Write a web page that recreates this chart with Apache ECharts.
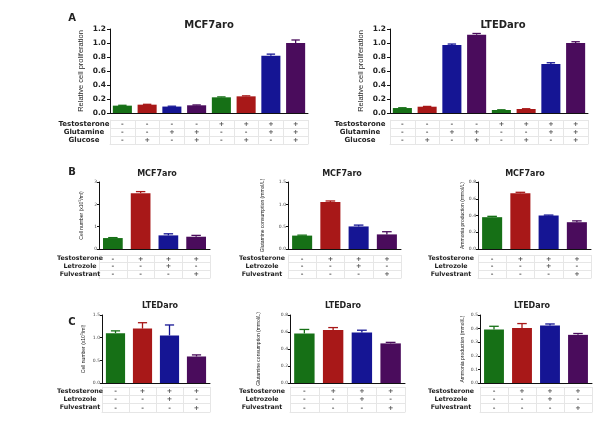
<!DOCTYPE html>
<html><head><meta charset="utf-8">
<script src="https://cdn.jsdelivr.net/npm/echarts@6/dist/echarts.min.js"></script>
<style>html,body{margin:0;padding:0;background:#fff}#c{width:600px;height:428px}</style>
</head><body><div id="c"></div>
<script>
// ---------------- data ----------------
const condA = ['c1','c2','c3','c4','c5','c6','c7','c8'];
const condB = ['c1','c2','c3','c4'];

const mcf7ProlifMean = [0.105, 0.119, 0.092, 0.110, 0.224, 0.238, 0.819, 1.000];
const mcf7ProlifErr  = [0.005, 0.005, 0.005, 0.005, 0.006, 0.007, 0.022, 0.043];
const ltedProlifMean = [0.071, 0.090, 0.971, 1.119, 0.043, 0.057, 0.700, 1.000];
const ltedProlifErr  = [0.004, 0.004, 0.014, 0.017, 0.003, 0.004, 0.018, 0.018];

const mcf7CellMean = [0.49, 2.50, 0.61, 0.55];
const mcf7CellErr  = [0.02, 0.07, 0.07, 0.06];
const mcf7GlnMean  = [0.30, 1.05, 0.505, 0.327];
const mcf7GlnErr   = [0.01, 0.025, 0.03, 0.06];
const mcf7NH3Mean  = [0.38, 0.665, 0.40, 0.32];
const mcf7NH3Err   = [0.01, 0.012, 0.005, 0.016];

const ltedCellMean = [1.10, 1.20, 1.05, 0.585];
const ltedCellErr  = [0.05, 0.13, 0.23, 0.035];
const ltedGlnMean  = [0.583, 0.625, 0.594, 0.466];
const ltedGlnErr   = [0.047, 0.027, 0.027, 0.012];
const ltedNH3Mean  = [0.393, 0.405, 0.422, 0.354];
const ltedNH3Err   = [0.024, 0.032, 0.012, 0.010];

const rowsA  = ['Testosterone', 'Glutamine', 'Glucose'];
const signsA = [['-','-','-','-','+','+','+','+'],
                ['-','-','+','+','-','-','+','+'],
                ['-','+','-','+','-','+','-','+']];
const rowsB  = ['Testosterone', 'Letrozole', 'Fulvestrant'];
const signsB = [['-','+','+','+'],
                ['-','-','+','-'],
                ['-','-','-','+']];

// y-axis ranges: [max, interval, decimals]
const yProlif = [1.2, 0.2, 1];
const yCell   = [3, 1, 0];
const yGln    = [1.5, 0.5, 1];
const yNH3    = [0.8, 0.2, 1];
const yLCell  = [1.5, 0.5, 1];
const yLGln   = [0.8, 0.2, 1];
const yLNH3   = [0.5, 0.1, 1];

const barColors = ['#167016', '#a81818', '#151594', '#4a0c5c'];

// ---------------- layout ----------------
const FF = 'DejaVu Sans';
const panels = [
  {title:'MCF7aro', tx:209, ty:25, tfs:10, cats:condA, mean:mcf7ProlifMean, err:mcf7ProlifErr, rows:rowsA, signs:signsA,
   yName:'Relative cell proliferation', y:yProlif, big:true, g:{left:110, top:29, width:198, height:84}, tb:{top:120, height:24}, rc:84, ng:25, bw:'77%'},
  {title:'LTEDaro', tx:503, ty:25, tfs:10, cats:condA, mean:ltedProlifMean, err:ltedProlifErr, rows:rowsA, signs:signsA,
   yName:'Relative cell proliferation', y:yProlif, big:true, g:{left:390, top:29, width:198, height:84}, tb:{top:120, height:24}, rc:360, ng:25, bw:'77%'},
  {title:'MCF7aro', tx:157, ty:174, tfs:8, cats:condB, mean:mcf7CellMean, err:mcf7CellErr, rows:rowsB, signs:signsB,
   yName:'Cell number (x10{s|5}/ml)', y:yCell, g:{left:99, top:182, width:111, height:67}, tb:{top:255, height:23}, rc:80, ng:14, bw:'71%'},
  {title:'MCF7aro', tx:342, ty:174, tfs:8, cats:condB, mean:mcf7GlnMean, err:mcf7GlnErr, rows:rowsB, signs:signsB,
   yName:'Glutamine consumption (mmol/L)', y:yGln, g:{left:288, top:182, width:113, height:67}, tb:{top:255, height:23}, rc:262, ng:23, bw:'71%'},
  {title:'MCF7aro', tx:525, ty:174, tfs:8, cats:condB, mean:mcf7NH3Mean, err:mcf7NH3Err, rows:rowsB, signs:signsB,
   yName:'Ammonia production (mmol/L)', y:yNH3, g:{left:478, top:182, width:113, height:67}, tb:{top:255, height:23}, rc:451, ng:13, bw:'71%'},
  {title:'LTEDaro', tx:160, ty:306, tfs:8, cats:condB, mean:ltedCellMean, err:ltedCellErr, rows:rowsB, signs:signsB,
   yName:'Cell number (x10{s|5}/ml)', y:yLCell, g:{left:102, top:315, width:108, height:68}, tb:{top:387, height:25}, rc:80, ng:15, bw:'71%'},
  {title:'LTEDaro', tx:343, ty:306, tfs:8, cats:condB, mean:ltedGlnMean, err:ltedGlnErr, rows:rowsB, signs:signsB,
   yName:'Glutamine consumption (mmol/L)', y:yLGln, g:{left:290, top:315, width:115, height:68}, tb:{top:387, height:25}, rc:262, ng:29, bw:'71%'},
  {title:'LTEDaro', tx:532, ty:306, tfs:8, cats:condB, mean:ltedNH3Mean, err:ltedNH3Err, rows:rowsB, signs:signsB,
   yName:'Ammonia production (mmol/L)', y:yLNH3, g:{left:480, top:315, width:112, height:68}, tb:{top:387, height:25}, rc:451, ng:15, bw:'71%'}
];

const letters = [{t:'A', x:72, y:18}, {t:'B', x:72, y:172}, {t:'C', x:72, y:322}];

function errRender(params, api) {
  const i = api.value(0), m = api.value(1), e = api.value(2);
  const base = api.coord([i, m]);
  const top = api.coord([i, m + e]);
  const w = api.size([1, 0])[0] * 0.17;
  const c = barColors[params.dataIndex % barColors.length];
  const style = {stroke: c, lineWidth: 1.3};
  return {type:'group', children:[
    {type:'line', shape:{x1:base[0], y1:base[1], x2:top[0], y2:top[1]}, style},
    {type:'line', shape:{x1:top[0]-w, y1:top[1], x2:top[0]+w, y2:top[1]}, style}
  ]};
}

const option = {animation:false, backgroundColor:'#fff', grid:[], xAxis:[], yAxis:[], series:[], graphic:[]};
const gridLine = '#e6e6e6';

panels.forEach((p, k) => {
  const gi = 2*k, ti = 2*k+1;
  option.grid.push({left:p.g.left, top:p.g.top, width:p.g.width, height:p.g.height, containLabel:false});
  option.grid.push({left:p.g.left, top:p.tb.top, width:p.g.width, height:p.tb.height, containLabel:false});
  // chart axes
  option.xAxis.push({type:'category', gridIndex:gi, data:p.cats, boundaryGap:true,
    axisLine:{lineStyle:{color:'#111', width:1}}, axisTick:{alignWithLabel:true, length:3, lineStyle:{color:'#111'}},
    axisLabel:{show:false}, splitLine:{show:false}});
  const dec = p.y[2];
  option.yAxis.push({type:'value', gridIndex:gi, min:0, max:p.y[0], interval:p.y[1],
    axisLine:{show:true, lineStyle:{color:'#111', width:1}}, axisTick:{show:true, length:p.big?3:2, lineStyle:{color:'#111'}},
    splitLine:{show:false},
    axisLabel:{formatter:v => v.toFixed(dec), fontFamily:FF, fontWeight:p.big?'bold':'normal', fontSize:p.big?7.5:4.5, color:p.big?'#222':'#444', margin:p.big?4:2},
    name:p.yName, nameLocation:'middle', nameRotate:90, nameGap:p.ng,
    nameTextStyle:{fontFamily:'Liberation Sans Narrow, Liberation Sans, sans-serif', fontSize:p.big?7.5:5, color:'#222',
      rich:{s:{fontSize:3.5, padding:[0,0,3,0], color:'#222'}}}});
  // table axes
  option.xAxis.push({type:'category', gridIndex:ti, data:p.cats, boundaryGap:true,
    axisLine:{show:true, lineStyle:{color:gridLine}}, axisTick:{show:false}, axisLabel:{show:false},
    splitLine:{show:true, interval:0, lineStyle:{color:gridLine, width:1}}});
  option.yAxis.push({type:'category', gridIndex:ti, data:p.rows, inverse:true, boundaryGap:true,
    axisLine:{show:true, lineStyle:{color:gridLine}}, axisTick:{show:false},
    axisLabel:{interval:0, hideOverlap:false, align:'center', margin:p.g.left - p.rc, fontFamily:FF, fontWeight:'bold', fontSize:p.big?7:6.3, color:'#222'},
    splitLine:{show:true, interval:0, lineStyle:{color:gridLine, width:1}}});
  // bars
  option.series.push({type:'bar', xAxisIndex:gi, yAxisIndex:gi, barWidth:p.bw,
    data:p.mean.map((v, i) => ({value:v, itemStyle:{color:barColors[i % barColors.length]}}))});
  option.series.push({type:'custom', xAxisIndex:gi, yAxisIndex:gi, renderItem:errRender, z:5,
    encode:{x:0, y:1}, data:p.mean.map((v, i) => [i, v, p.err[i]])});
  // table signs
  const pts = [];
  p.signs.forEach((row, r) => row.forEach((s, c) => pts.push({value:[c, r], sign:s})));
  option.series.push({type:'scatter', xAxisIndex:ti, yAxisIndex:ti, symbolSize:1, itemStyle:{color:'rgba(0,0,0,0)'},
    label:{show:true, position:'inside', formatter:q => q.data.sign, fontFamily:FF, fontWeight:'bold', fontSize:6.5, color:'#222'},
    labelLayout:{hideOverlap:false}, data:pts});
  // title
  option.graphic.push({type:'text', x:p.tx, y:p.ty, style:{text:p.title, align:'center', verticalAlign:'middle',
    font:'bold ' + p.tfs + 'px "' + FF + '"', fill:'#222'}});
});
letters.forEach(l => option.graphic.push({type:'text', x:l.x, y:l.y, style:{text:l.t, align:'center', verticalAlign:'middle',
  font:'bold 10px "' + FF + '"', fill:'#222'}}));

const chart = echarts.init(document.getElementById('c'), null, {renderer:'canvas'});
chart.setOption(option);
</script>
</body></html>
